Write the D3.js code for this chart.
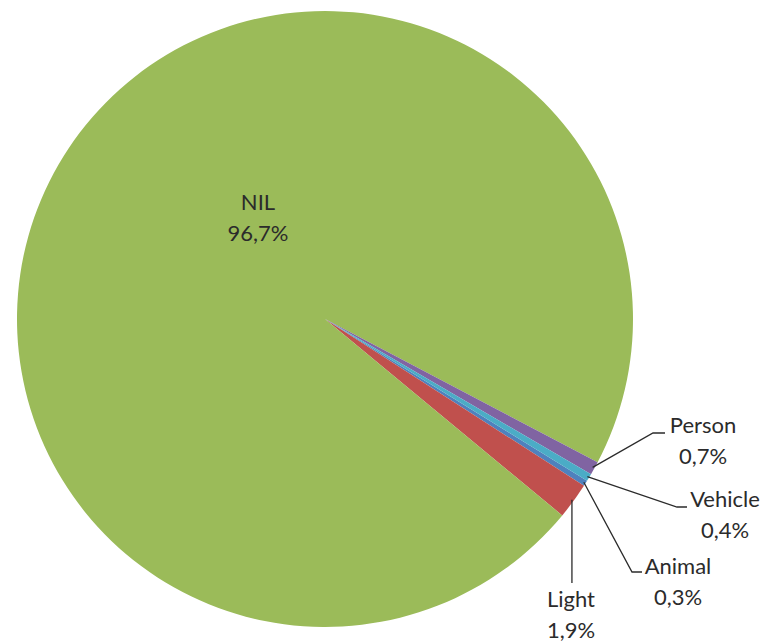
<!DOCTYPE html>
<html>
<head>
<meta charset="utf-8">
<script src="https://cdn.jsdelivr.net/npm/d3@7/dist/d3.min.js"></script>
<style>
  html, body { margin: 0; padding: 0; background: #ffffff; }
  svg { display: block; }
  text { font-family: Lato, "Open Sans", sans-serif; fill: #2b2b2b; }
</style>
</head>
<body>
<svg id="chart" width="763" height="643"></svg>
<script>
// Detection categories and their share of all events (%)
const categories = ["Animal", "Light", "NIL", "Person", "Vehicle"];
const shares = [0.3, 1.9, 96.7, 0.7, 0.4];
const shareLabels = ["0,3%", "1,9%", "96,7%", "0,7%", "0,4%"];
const colors = ["#4F81BD", "#C0504D", "#9BBB59", "#8064A2", "#4BACC6"];

// Layout
const width = 763, height = 643;
const cx = 325, cy = 319, radius = 308;
const startDeg = 121.7;           // rotation of the first slice, clockwise from 12 o'clock
const fontSize = 22, lineGap = 31;

// Label placement: centre x, first-line baseline, and leader line elbow/end (null = inside label)
const labelLayout = {
  NIL:     { x: 258, y: 210, leader: null },
  Person:  { x: 703, y: 433, leader: [[653, 433], [665, 433]] },
  Vehicle: { x: 725, y: 507, leader: [[677, 507], [687, 507]] },
  Animal:  { x: 678, y: 574, leader: [[632, 572], [642, 572]] },
  Light:   { x: 571, y: 607, leader: [[573, 583]] }
};

const svg = d3.select("#chart");
const g = svg.append("g").attr("transform", `translate(${cx},${cy})`);

const start = startDeg * Math.PI / 180;
const pie = d3.pie().sort(null).value(d => d.value)
  .startAngle(start).endAngle(start + 2 * Math.PI);

const data = categories.map((c, i) => ({ name: c, value: shares[i], label: shareLabels[i], color: colors[i] }));
const arcs = pie(data);
const arc = d3.arc().innerRadius(0).outerRadius(radius);

g.selectAll("path.slice")
  .data(arcs)
  .join("path")
  .attr("class", "slice")
  .attr("d", arc)
  .attr("fill", d => d.data.color);

// Leader lines from the slice rim to each outside label
const rim = d3.arc().innerRadius(radius - 2).outerRadius(radius - 2);
arcs.forEach(a => {
  const lay = labelLayout[a.data.name];
  if (!lay.leader) return;
  const mid = (a.startAngle + a.endAngle) / 2;
  const p0 = [cx + (radius - 2) * Math.sin(mid), cy - (radius - 2) * Math.cos(mid)];
  let pts;
  if (a.data.name === "Light") {
    // vertical drop straight below the rim point
    pts = [p0, [p0[0], lay.leader[0][1]]];
  } else {
    pts = [p0, ...lay.leader];
  }
  svg.append("path")
    .attr("d", d3.line()(pts))
    .attr("fill", "none")
    .attr("stroke", "#2b2b2b")
    .attr("stroke-width", 1.3);
});

// Category name and share, two centred lines
arcs.forEach(a => {
  const lay = labelLayout[a.data.name];
  const t = svg.append("text")
    .attr("text-anchor", "middle")
    .attr("font-size", fontSize);
  t.append("tspan").attr("x", lay.x).attr("y", lay.y).text(a.data.name);
  t.append("tspan").attr("x", lay.x).attr("y", lay.y + lineGap).text(a.data.label);
});
</script>
</body>
</html>
